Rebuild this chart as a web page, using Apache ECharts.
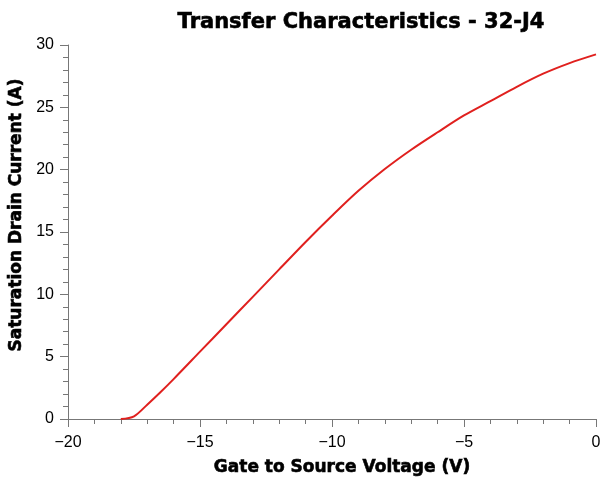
<!DOCTYPE html>
<html>
<head>
<meta charset="utf-8">
<script src="https://cdn.jsdelivr.net/npm/echarts@6/dist/echarts.min.js"></script>
<style>html,body{margin:0;padding:0;background:#fff}#c{width:606px;height:477px}</style>
</head>
<body>
<div id="c"></div>
<script>
var vgs = [-18, -17.5, -17, -16.5, -16, -15, -14, -13, -12, -11, -10, -9, -8, -7, -6, -5, -4, -3, -2, -1, 0];
var idsat = [0, 0.22, 1.15, 2.15, 3.2, 5.4, 7.6, 9.8, 12.0, 14.2, 16.3, 18.3, 20.05, 21.6, 23.0, 24.35, 25.5, 26.65, 27.7, 28.55, 29.25];
var titleText = 'Transfer Characteristics - 32-J4';
var xName = 'Gate to Source Voltage (V)';
var yName = 'Saturation Drain Current (A)';

var data = vgs.map(function (v, i) { return [v, idsat[i]]; });
var chart = echarts.init(document.getElementById('c'), null, {renderer: 'canvas'});
var fmt = function (v) { return String(v).replace('-', '\u2212'); };
var axisCol = '#777';
var heavy = {fontFamily: 'DejaVu Sans', fontWeight: 'bold', color: '#000', textBorderColor: '#000', textBorderWidth: 0.6};
chart.setOption({
  animation: false,
  backgroundColor: '#fff',
  title: {
    text: titleText,
    left: 356, top: 7, textAlign: 'center',
    textStyle: Object.assign({fontSize: 21}, heavy)
  },
  grid: {left: 68, right: 10, top: 45, bottom: 58, containLabel: false, outerBoundsMode: 'none'},
  xAxis: {
    type: 'value', min: -20, max: 0, interval: 5,
    name: xName, nameLocation: 'middle', nameGap: 40,
    nameTextStyle: Object.assign({fontSize: 17, padding: [0, 0, 0, 20]}, heavy),
    axisLine: {show: true, onZero: false, lineStyle: {color: axisCol, width: 1}},
    axisTick: {show: true, inside: false, length: 8, lineStyle: {color: axisCol}},
    minorTick: {show: true, splitNumber: 5, length: 5, lineStyle: {color: axisCol}},
    splitLine: {show: false},
    axisLabel: {formatter: fmt, fontFamily: 'Liberation Sans', fontSize: 16, color: '#000', margin: 16}
  },
  yAxis: {
    type: 'value', min: 0, max: 30, interval: 5,
    name: yName, nameLocation: 'middle', nameGap: 33,
    nameTextStyle: Object.assign({fontSize: 17, padding: [0, 0, 0, 34]}, heavy),
    axisLine: {show: true, onZero: false, lineStyle: {color: axisCol, width: 1}},
    axisTick: {show: true, inside: false, length: 8, lineStyle: {color: axisCol}},
    minorTick: {show: true, splitNumber: 5, length: 5, lineStyle: {color: axisCol}},
    splitLine: {show: false},
    axisLabel: {fontFamily: 'Liberation Sans', fontSize: 16, color: '#000', margin: 14}
  },
  series: [{
    type: 'line', data: data, showSymbol: false, smooth: 0.3,
    lineStyle: {color: '#e0201e', width: 2}
  }]
});
</script>
</body>
</html>
